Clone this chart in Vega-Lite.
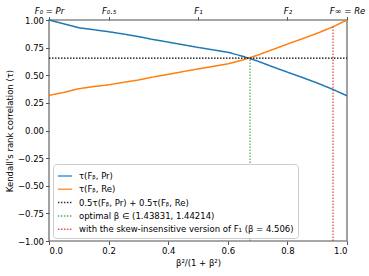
{
  "$schema": "https://vega.github.io/schema/vega-lite/v6.json",
  "width": 298,
  "height": 221,
  "autosize": "none",
  "padding": {"left": 49, "top": 20, "right": 22, "bottom": 35},
  "config": {
    "font": "DejaVu Sans",
    "view": {"stroke": "#8a8a8a", "strokeWidth": 1.6},
    "axis": {"domain": false, "grid": false, "tickColor": "#555", "tickSize": 3.5, "labelFontSize": 8.5, "labelColor": "#000", "titleFontSize": 8.5, "titleFontWeight": "normal", "titleColor": "#000", "labelFont": "DejaVu Sans", "titleFont": "DejaVu Sans", "labelOverlap": false}
  },
  "datasets": {
    "curves": [
      {"x": 0.00, "tau": 1.000, "series": "τ(Fᵦ, Pr)"},
      {"x": 0.05, "tau": 0.965, "series": "τ(Fᵦ, Pr)"},
      {"x": 0.10, "tau": 0.930, "series": "τ(Fᵦ, Pr)"},
      {"x": 0.15, "tau": 0.912, "series": "τ(Fᵦ, Pr)"},
      {"x": 0.20, "tau": 0.894, "series": "τ(Fᵦ, Pr)"},
      {"x": 0.25, "tau": 0.873, "series": "τ(Fᵦ, Pr)"},
      {"x": 0.30, "tau": 0.850, "series": "τ(Fᵦ, Pr)"},
      {"x": 0.35, "tau": 0.823, "series": "τ(Fᵦ, Pr)"},
      {"x": 0.40, "tau": 0.800, "series": "τ(Fᵦ, Pr)"},
      {"x": 0.45, "tau": 0.776, "series": "τ(Fᵦ, Pr)"},
      {"x": 0.50, "tau": 0.752, "series": "τ(Fᵦ, Pr)"},
      {"x": 0.55, "tau": 0.730, "series": "τ(Fᵦ, Pr)"},
      {"x": 0.60, "tau": 0.708, "series": "τ(Fᵦ, Pr)"},
      {"x": 0.65, "tau": 0.672, "series": "τ(Fᵦ, Pr)"},
      {"x": 0.70, "tau": 0.628, "series": "τ(Fᵦ, Pr)"},
      {"x": 0.75, "tau": 0.577, "series": "τ(Fᵦ, Pr)"},
      {"x": 0.80, "tau": 0.528, "series": "τ(Fᵦ, Pr)"},
      {"x": 0.85, "tau": 0.480, "series": "τ(Fᵦ, Pr)"},
      {"x": 0.90, "tau": 0.430, "series": "τ(Fᵦ, Pr)"},
      {"x": 0.95, "tau": 0.375, "series": "τ(Fᵦ, Pr)"},
      {"x": 1.00, "tau": 0.314, "series": "τ(Fᵦ, Pr)"},
      {"x": 0.00, "tau": 0.318, "series": "τ(Fᵦ, Re)"},
      {"x": 0.05, "tau": 0.345, "series": "τ(Fᵦ, Re)"},
      {"x": 0.10, "tau": 0.378, "series": "τ(Fᵦ, Re)"},
      {"x": 0.15, "tau": 0.398, "series": "τ(Fᵦ, Re)"},
      {"x": 0.20, "tau": 0.413, "series": "τ(Fᵦ, Re)"},
      {"x": 0.25, "tau": 0.436, "series": "τ(Fᵦ, Re)"},
      {"x": 0.30, "tau": 0.457, "series": "τ(Fᵦ, Re)"},
      {"x": 0.35, "tau": 0.485, "series": "τ(Fᵦ, Re)"},
      {"x": 0.40, "tau": 0.508, "series": "τ(Fᵦ, Re)"},
      {"x": 0.45, "tau": 0.533, "series": "τ(Fᵦ, Re)"},
      {"x": 0.50, "tau": 0.557, "series": "τ(Fᵦ, Re)"},
      {"x": 0.55, "tau": 0.580, "series": "τ(Fᵦ, Re)"},
      {"x": 0.60, "tau": 0.603, "series": "τ(Fᵦ, Re)"},
      {"x": 0.65, "tau": 0.638, "series": "τ(Fᵦ, Re)"},
      {"x": 0.70, "tau": 0.682, "series": "τ(Fᵦ, Re)"},
      {"x": 0.75, "tau": 0.732, "series": "τ(Fᵦ, Re)"},
      {"x": 0.80, "tau": 0.782, "series": "τ(Fᵦ, Re)"},
      {"x": 0.85, "tau": 0.830, "series": "τ(Fᵦ, Re)"},
      {"x": 0.90, "tau": 0.880, "series": "τ(Fᵦ, Re)"},
      {"x": 0.95, "tau": 0.935, "series": "τ(Fᵦ, Re)"},
      {"x": 1.00, "tau": 1.000, "series": "τ(Fᵦ, Re)"}
    ],
    "hline": [
      {"x": 0, "x2": 1, "y": 0.655, "series": "0.5τ(Fᵦ, Pr) + 0.5τ(Fᵦ, Re)"}
    ],
    "vlines": [
      {"x": 0.6746, "y": -1, "y2": 0.655, "series": "optimal β ∈ (1.43831, 1.44214)"},
      {"x": 0.953, "y": -1, "y2": 0.94, "series": "with the skew-insensitive version of F₁ (β = 4.506)"}
    ]
  },
  "layer": [
    {
      "data": {"name": "curves"},
      "mark": {"type": "line", "strokeWidth": 1.5},
      "encoding": {
        "x": {"field": "x", "type": "quantitative", "scale": {"domain": [0, 1], "nice": false},
              "axis": {"orient": "bottom", "title": "β²/(1 + β²)", "values": [0, 0.2, 0.4, 0.6, 0.8, 1.0], "format": ".1f", "titlePadding": 3, "labelPadding": 2}},
        "y": {"field": "tau", "type": "quantitative", "scale": {"domain": [-1, 1], "nice": false},
              "axis": {"title": "Kendall's rank correlation (τ)", "values": [-1, -0.75, -0.5, -0.25, 0, 0.25, 0.5, 0.75, 1], "format": ".2f", "titlePadding": 3, "labelPadding": 2, "labelOverlap": false, "tickCount": 9}},
        "color": {"field": "series", "type": "nominal", "title": null,
                  "scale": {"domain": ["τ(Fᵦ, Pr)", "τ(Fᵦ, Re)", "0.5τ(Fᵦ, Pr) + 0.5τ(Fᵦ, Re)", "optimal β ∈ (1.43831, 1.44214)", "with the skew-insensitive version of F₁ (β = 4.506)"],
                            "range": ["#1f77b4", "#ff7f0e", "#000000", "#2ca02c", "#d62728"]},
                  "legend": {"orient": "none", "legendX": 4, "legendY": 144, "symbolType": "stroke", "symbolSize": 200, "symbolStrokeWidth": 1.5, "labelFontSize": 8.5, "labelFont": "DejaVu Sans", "rowPadding": 0.3, "fillColor": "white", "strokeColor": "#cccccc", "cornerRadius": 3, "padding": 4, "labelOffset": 6, "labelLimit": 300}},
        "strokeDash": {"field": "series", "type": "nominal", "title": null,
                  "scale": {"domain": ["τ(Fᵦ, Pr)", "τ(Fᵦ, Re)", "0.5τ(Fᵦ, Pr) + 0.5τ(Fᵦ, Re)", "optimal β ∈ (1.43831, 1.44214)", "with the skew-insensitive version of F₁ (β = 4.506)"],
                            "range": [[1, 0], [1, 0], [1.5, 1.5], [1.5, 1.5], [1.5, 1.5]]},
                  "legend": {"orient": "none", "legendX": 4, "legendY": 144, "symbolType": "stroke", "symbolSize": 200, "symbolStrokeWidth": 1.5, "labelFontSize": 8.5, "labelFont": "DejaVu Sans", "rowPadding": 0.3, "fillColor": "white", "strokeColor": "#cccccc", "cornerRadius": 3, "padding": 4, "labelOffset": 6, "labelLimit": 300}}
      }
    },
    {
      "data": {"name": "hline"},
      "mark": {"type": "rule", "strokeWidth": 1.3},
      "encoding": {
        "x": {"field": "x", "type": "quantitative", "axis": null},
        "x2": {"field": "x2"},
        "y": {"field": "y", "type": "quantitative", "axis": {"title": "Kendall's rank correlation (τ)", "values": [-1, -0.75, -0.5, -0.25, 0, 0.25, 0.5, 0.75, 1], "format": ".2f", "titlePadding": 3, "labelPadding": 2, "labelOverlap": false, "tickCount": 9}},
        "color": {"field": "series", "type": "nominal"},
        "strokeDash": {"field": "series", "type": "nominal"}
      }
    },
    {
      "data": {"name": "vlines"},
      "mark": {"type": "rule", "strokeWidth": 1.3, "opacity": 0.8},
      "encoding": {
        "x": {"field": "x", "type": "quantitative",
              "axis": {"orient": "top", "title": null, "values": [0, 0.2, 0.5, 0.8, 1], "labelFontStyle": "italic", "labelPadding": 1, "labelOverlap": false, "labelFlush": false,
                       "labelExpr": "datum.value == 0 ? 'F₀ = Pr' : datum.value == 0.2 ? 'F₀.₅' : datum.value == 0.5 ? 'F₁' : datum.value == 0.8 ? 'F₂' : 'F∞ = Re'"}},
        "y": {"field": "y", "type": "quantitative", "axis": {"title": "Kendall's rank correlation (τ)", "values": [-1, -0.75, -0.5, -0.25, 0, 0.25, 0.5, 0.75, 1], "format": ".2f", "titlePadding": 3, "labelPadding": 2, "labelOverlap": false, "tickCount": 9}},
        "y2": {"field": "y2"},
        "color": {"field": "series", "type": "nominal"},
        "strokeDash": {"field": "series", "type": "nominal"}
      }
    }
  ],
  "resolve": {"axis": {"x": "independent"}}
}
